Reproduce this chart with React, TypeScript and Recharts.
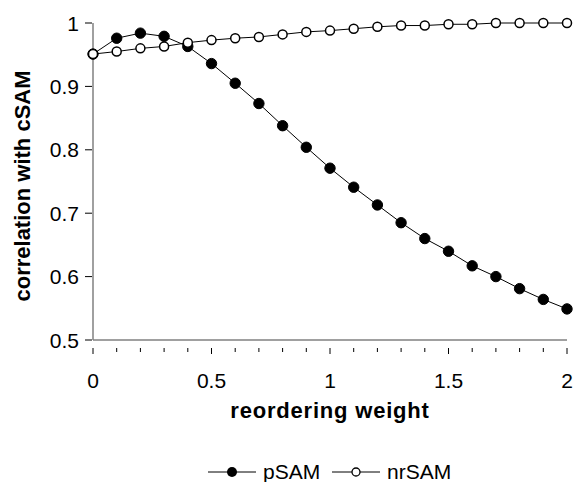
import React from "react";
import { LineChart, Line, XAxis, YAxis } from "recharts";

const weights = [0, 0.1, 0.2, 0.3, 0.4, 0.5, 0.6, 0.7, 0.8, 0.9, 1, 1.1, 1.2, 1.3, 1.4, 1.5, 1.6, 1.7, 1.8, 1.9, 2];
const pSAM = [0.951, 0.976, 0.984, 0.979, 0.963, 0.936, 0.905, 0.873, 0.838, 0.804, 0.771, 0.741, 0.713, 0.685, 0.66, 0.64, 0.617, 0.6, 0.581, 0.564, 0.549];
const nrSAM = [0.951, 0.955, 0.96, 0.963, 0.969, 0.973, 0.976, 0.978, 0.982, 0.986, 0.988, 0.991, 0.994, 0.996, 0.996, 0.998, 0.998, 1.0, 1.0, 1.0, 1.0];
const xMajor = [0, 0.5, 1, 1.5, 2];
const yTicks = [0.5, 0.6, 0.7, 0.8, 0.9, 1];

const data = weights.map((w, i) => ({ w, pSAM: pSAM[i], nrSAM: nrSAM[i] }));

const FONT = "'Liberation Sans', Arial, sans-serif";
const AXIS_COLOR = "#808080";

const XTick = (props: any) => {
  const { x, y, payload } = props;
  const major = xMajor.some((m) => Math.abs(m - payload.value) < 1e-6);
  return (
    <g>
      <line x1={x} x2={x} y1={y} y2={y + (major ? 6 : 4)} stroke="#000" strokeWidth={1} />
      {major && (
        <text x={x} y={y + 40} textAnchor="middle" fontSize={21} fontFamily={FONT} fill="#000">
          {payload.value}
        </text>
      )}
    </g>
  );
};

const YTick = (props: any) => {
  const { x, y, payload } = props;
  return (
    <g>
      <line x1={x} x2={x + 7} y1={y} y2={y} stroke="#000" strokeWidth={1} />
      <text x={x - 6} y={y + 7.5} textAnchor="end" fontSize={21} fontFamily={FONT} fill="#000">
        {payload.value}
      </text>
    </g>
  );
};

const Legend = () => (
  <g fontFamily={FONT} fontSize={21}>
    <line x1={208} x2={256} y1={472} y2={472} stroke="#000" />
    <circle cx={232} cy={472} r={5} fill="#000" />
    <text x={263} y={479}>pSAM</text>
    <line x1={332} x2={380} y1={472} y2={472} stroke="#000" />
    <circle cx={356} cy={472} r={4} fill="#fff" stroke="#000" strokeWidth={1.3} />
    <text x={387} y={479}>nrSAM</text>
  </g>
);

export default function App() {
  return (
    <div style={{ position: "absolute", left: 0, top: 0, background: "#fff" }}>
      <LineChart width={575} height={482} data={data} margin={{ top: 23, right: 8, left: 33, bottom: 0 }}>
        <XAxis
          dataKey="w"
          type="number"
          domain={[0, 2]}
          ticks={weights}
          interval={0}
          tick={<XTick />}
          tickLine={false}
          axisLine={{ stroke: AXIS_COLOR, strokeWidth: 1.5 }}
          height={142}
        />
        <YAxis
          type="number"
          domain={[0.5, 1]}
          ticks={yTicks}
          interval={0}
          tick={<YTick />}
          tickLine={false}
          axisLine={{ stroke: AXIS_COLOR, strokeWidth: 1.5 }}
          width={60}
        />
        <Line
          dataKey="pSAM"
          stroke="#000"
          strokeWidth={1}
          isAnimationActive={false}
          dot={{ r: 5.2, fill: "#000", stroke: "#000", strokeWidth: 1 }}
        />
        <Line
          dataKey="nrSAM"
          stroke="#000"
          strokeWidth={1}
          isAnimationActive={false}
          dot={{ r: 4.5, fill: "#fff", stroke: "#000", strokeWidth: 1.5 }}
        />
        <text x={330} y={418} textAnchor="middle" fontFamily={FONT} fontSize={22} fontWeight="bold" letterSpacing={0.8}>
          reordering weight
        </text>
        <text
          x={30}
          y={186}
          textAnchor="middle"
          fontFamily={FONT}
          fontSize={22}
          fontWeight="bold"
          transform="rotate(-90 30 186)"
        >
          correlation with cSAM
        </text>
        <Legend />
      </LineChart>
    </div>
  );
}
